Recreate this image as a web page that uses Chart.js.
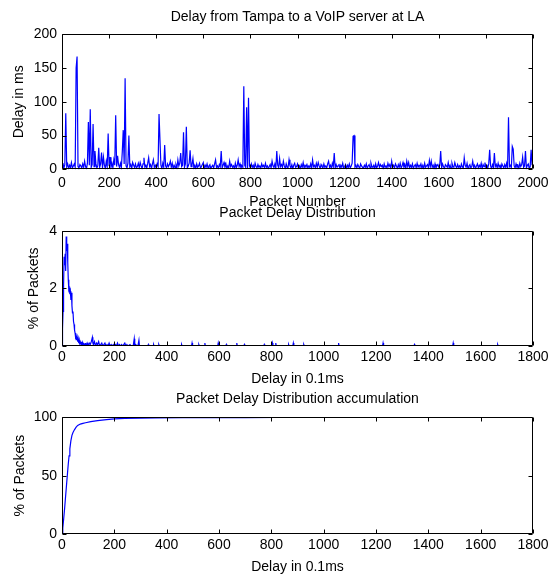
<!DOCTYPE html>
<html>
<head>
<meta charset="utf-8">
<script src="https://cdn.jsdelivr.net/npm/chart.js"></script>
<style>
  html, body { margin: 0; padding: 0; background: #fff; overflow: hidden; }
  body { width: 548px; height: 574px; position: relative; }
  canvas { position: absolute; left: 0; }
</style>
</head>
<body>
<canvas id="delayChart" width="548" height="212" style="top:0px"></canvas>
<canvas id="distChart" width="548" height="194" style="top:196px"></canvas>
<canvas id="accChart" width="548" height="196" style="top:382px"></canvas>
<script>
// delay per packet (ms), one value every 4 packets
const packetStep = 4;
const delayMs = [
  3,9,2,7,83,4,8,1,6,3,10,2,5,8,3,150,167,4,2,7,
  5,2,8,3,12,4,1,9,70,6,89,3,7,67,4,27,8,2,5,32,
  3,8,25,2,18,6,1,12,4,53,5,18,3,9,2,14,6,80,4,20,
  7,3,9,2,26,58,8,135,5,2,9,50,4,7,1,10,6,3,8,2,
  4,9,2,10,5,1,8,17,3,6,2,9,17,4,7,1,8,14,3,6,
  2,8,4,82,82,6,1,9,3,36,5,2,8,4,7,12,3,9,1,6,
  3,7,2,14,5,9,24,4,6,55,3,8,63,2,5,9,28,4,7,16,
  2,6,1,8,3,5,9,2,4,7,10,1,6,3,8,2,5,7,1,4,
  6,2,8,14,3,5,1,7,4,27,2,6,10,3,8,1,5,2,12,4,
  7,3,5,1,9,2,6,14,4,8,2,5,3,123,6,3,92,2,106,5,
  2,8,3,6,1,9,4,2,7,3,5,1,8,4,6,2,9,3,5,1,
  4,7,2,12,5,3,8,1,27,6,2,16,4,7,3,12,5,1,8,3,
  3,14,5,2,7,1,6,9,3,4,8,2,5,1,7,3,10,2,6,4,
  7,2,5,3,8,1,14,4,6,2,9,3,10,5,1,7,4,2,8,3,
  5,2,8,12,3,6,1,9,4,24,2,7,3,5,8,1,6,3,9,2,
  4,7,1,6,3,8,2,5,9,49,50,3,6,2,7,4,1,8,5,3,
  2,6,3,8,1,5,7,2,9,4,3,6,1,8,2,5,10,3,7,4,
  6,1,8,3,5,2,9,4,7,1,12,3,6,2,8,5,1,7,3,9,
  2,5,10,3,7,1,12,4,10,2,6,3,8,1,5,7,2,9,3,6,
  4,8,2,6,1,9,3,5,7,2,13,4,12,3,6,1,8,2,5,7,
  3,6,27,2,8,4,1,7,5,3,10,2,6,1,9,4,3,10,5,2,
  7,3,5,1,8,4,2,17,6,3,9,1,5,7,2,4,12,3,6,1,
  5,8,2,6,3,9,1,7,4,10,3,6,2,8,29,5,1,7,3,24,
  4,7,2,9,3,6,1,8,5,2,7,3,9,1,77,4,6,2,34,30,
  5,2,8,3,6,1,9,4,7,18,3,5,27,2,6,8,1,4,29,6
];

// packet delay distribution (x: delay in 0.1ms, y: % of packets)
const distDelay = [
  0,2,4,6,8,10,12,14,16,18,20,22,24,26,28,30,32,34,36,38,40,42,44,46,48,50,
  52,54,56,58,60,62,64,66,68,70,72,74,76,78,80,82,84,86,88,90,92,94,96,98,100,
  104,108,112,116,118,120,124,128,132,136,140,144,148,152,156,160,164,168,172,176,
  180,184,188,192,196,200,204,208,212,216,220,224,228,232,236,240,244,248,252,260,
  264,272,276,278,282,286,290,294,296,
  328,330,332, 348,350,352, 368,370,372, 455,457,459, 495,497,499, 521,523,525,
  544,546,548, 595,597,599, 626,628,630, 666,668,670, 695,697,699, 771,773,775,
  802,804,806, 815,817,819, 864,866,868, 882,884,886, 922,924,926, 1055,1057,1059,
  1225,1227,1229, 1345,1347,1349, 1493,1495,1497, 1663,1665,1667
];
const distPct = [
  0,0.6,1.2,2.1,3.1,2.8,3.2,2.6,3.8,3.3,3.55,2.9,2.3,1.95,2.0,1.8,1.9,1.6,1.85,1.4,1.15,1.2,0.85,0.75,0.55,0.45,
  0.3,0.35,0.2,0.3,0.15,0.25,0.1,0.2,0.05,0.15,0.1,0.05,0.15,0,0.1,0.05,0.1,0,0.05,0.1,0,0.05,0.1,0.05,0,
  0.1,0.05,0.15,0.3,0.1,0.05,0.15,0,0.1,0.05,0.15,0,0.05,0.1,0,0.05,0.1,0,0.05,0,
  0.1,0,0.05,0,0.05,0,0.05,0,0.1,0,0.05,0,0.05,0,0.05,0.1,0,0.05,0,0.05,
  0,0,0.25,0,0.05,0,0,0.2,0,
  0,0.05,0, 0,0.05,0, 0,0.05,0, 0,0.05,0, 0,0.1,0, 0,0.05,0,
  0,0.1,0, 0,0.1,0, 0,0.05,0, 0,0.1,0, 0,0.05,0, 0,0.05,0,
  0,0.1,0, 0,0.1,0, 0,0.05,0, 0,0.1,0, 0,0.05,0, 0,0.1,0,
  0,0.1,0, 0,0.05,0, 0,0.1,0, 0,0.05,0
];

// accumulated distribution
const accDelay = [0,3,6,10,14,18,21,24,27,30,34,38,42,48,54,60,70,80,90,110,
  136,170,200,240,300,360,460,530,620,700,820,930,1060,1230,1350,1500,1665];
const accPct = [0,5,12,22,33,44,52,60,67,73,80,84.5,87,89.5,91.5,93,94.2,94.8,95.3,96.3,
  97.2,98,98.6,99,99.2,99.4,99.6,99.7,99.75,99.8,99.85,99.9,99.92,99.95,99.97,99.98,100];

const FONT = 'Liberation Sans, Arial, Helvetica, sans-serif';
const BLUE = '#0000ff';

// MATLAB style box with inward ticks on all four sides
const matlabBox = {
  id: 'matlabBox',
  afterDatasetsDraw(chart) {
    const ctx = chart.ctx;
    const a = chart.chartArea;
    const xs = chart.scales.x, ys = chart.scales.y;
    const L = Math.round(a.left) + 0.5, R = Math.round(a.right) - 0.5;
    const T = Math.round(a.top) + 0.5, B = Math.round(a.bottom) - 0.5;
    const tl = 4;
    ctx.save();
    ctx.strokeStyle = '#000';
    ctx.lineWidth = 1;
    ctx.beginPath();
    xs.ticks.forEach(t => {
      const px = Math.round(xs.getPixelForValue(t.value)) + 0.5;
      ctx.moveTo(px, B); ctx.lineTo(px, B - tl);
      ctx.moveTo(px, T); ctx.lineTo(px, T + tl);
    });
    ys.ticks.forEach(t => {
      const py = Math.round(ys.getPixelForValue(t.value)) + 0.5;
      ctx.moveTo(L, py); ctx.lineTo(L + tl, py);
      ctx.moveTo(R, py); ctx.lineTo(R - tl, py);
    });
    ctx.rect(L, T, R - L, B - T);
    ctx.stroke();
    ctx.restore();
  }
};

function makeChart(id, c) {
  const pts = c.xs.map((x, i) => ({x: x, y: c.ys[i]}));
  return new Chart(id, {
    type: 'line',
    data: {
      datasets: [{
        data: pts,
        borderColor: BLUE,
        borderWidth: 1.2,
        pointRadius: 0,
        tension: 0,
        fill: false
      }]
    },
    options: {
      responsive: false,
      animation: false,
      devicePixelRatio: 1,
      layout: { padding: { left: 0, right: 15, top: 0, bottom: 0 } },
      plugins: {
        legend: { display: false },
        tooltip: { enabled: false },
        title: {
          display: true,
          fullSize: false,
          text: c.title,
          color: '#000',
          font: { family: FONT, size: 14, weight: 'normal' },
          padding: { top: c.titleTop, bottom: c.titleBottom }
        }
      },
      scales: {
        x: {
          type: 'linear',
          min: 0,
          max: c.xMax,
          grid: { display: false, drawTicks: false },
          border: { display: false },
          ticks: {
            stepSize: 200,
            color: '#000',
            padding: c.xTickPad,
            font: { family: FONT, size: 14 },
            maxRotation: 0,
            autoSkip: false,
            callback: v => String(v)
          },
          title: {
            display: true,
            text: c.xTitle,
            color: '#000',
            font: { family: FONT, size: 14 },
            padding: { top: 0, bottom: c.xTitlePad }
          },
          afterFit(s) { s.height = c.xScaleH; s.paddingLeft = 0; s.paddingRight = 0; }
        },
        y: {
          min: 0,
          max: c.yMax,
          grid: { display: false, drawTicks: false },
          border: { display: false },
          ticks: {
            stepSize: c.yStep,
            color: '#000',
            padding: 5,
            font: { family: FONT, size: 14 },
            callback: v => String(v)
          },
          title: {
            display: true,
            text: c.yTitle,
            color: '#000',
            font: { family: FONT, size: 14 },
            padding: { top: c.yTitlePad, bottom: 0 }
          },
          afterFit(s) { s.width = 62; s.paddingTop = 0; s.paddingBottom = 0; }
        }
      }
    },
    plugins: [matlabBox]
  });
}

makeChart('delayChart', {
  title: 'Delay from Tampa to a VoIP server at LA',
  xTitle: 'Packet Number', yTitle: 'Delay in ms',
  xs: delayMs.map((v, i) => i * packetStep), ys: delayMs,
  xMax: 2000, yMax: 200, yStep: 50,
  titleTop: 8.3, titleBottom: 9.2,
  xScaleH: 212 - 169.3, xTickPad: 5.3, xTitlePad: 1.6, yTitlePad: 11.2
});

makeChart('distChart', {
  title: 'Packet Delay Distribution',
  xTitle: 'Delay in 0.1ms', yTitle: '% of Packets',
  xs: distDelay, ys: distPct,
  xMax: 1800, yMax: 4, yStep: 2,
  titleTop: 8.9, titleBottom: 9.0,
  xScaleH: 44, xTickPad: 2.3, xTitlePad: 2.3, yTitlePad: 25.6
});

makeChart('accChart', {
  title: 'Packet Delay Distribution accumulation',
  xTitle: 'Delay in 0.1ms', yTitle: '% of Packets',
  xs: accDelay, ys: accPct,
  xMax: 1800, yMax: 100, yStep: 50,
  titleTop: 8.6, titleBottom: 9.9,
  xScaleH: 44, xTickPad: 2.6, xTitlePad: 2.9, yTitlePad: 11.6
});
</script>
</body>
</html>
